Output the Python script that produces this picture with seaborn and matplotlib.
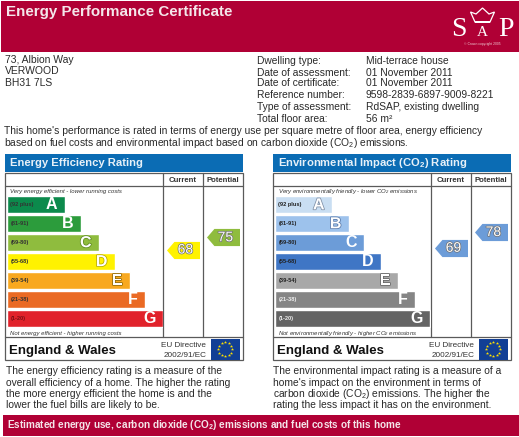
import numpy as np
import matplotlib
matplotlib.use("Agg")
import matplotlib.pyplot as plt
import matplotlib.patheffects as pe
from matplotlib.patches import Rectangle, Polygon
from matplotlib.path import Path
import seaborn as sns

W, H = 519, 437

# ---- data ----
bands = ["A", "B", "C", "D", "E", "F", "G"]
ranges = ["(92 plus)", "(81-91)", "(69-80)", "(55-68)", "(39-54)", "(21-38)", "(1-20)"]
energy_len = [58, 74, 92, 108, 123, 138, 156]
env_len = [57, 74, 89, 106, 123, 140, 155]
energy_colors = ["#0c8a4c", "#2c9c3c", "#8fbc3e", "#fff200", "#f8a81f", "#ea6a24", "#e1222b"]
env_colors = ["#c9def2", "#9dc2ec", "#6c9cd8", "#3f76c5", "#a8a8a8", "#858585", "#646464"]
energy_ratings = [68, 75]
env_ratings = [69, 78]
energy_arrow_colors = ["#fff200", "#8fbc3e"]
env_arrow_colors = ["#6c9cd8", "#6c9cd8"]
energy_range_colors = ["#333333"] * 6 + ["#7a1015"]
env_range_colors = ["#222222"] * 5 + ["#eeeeee"] * 2
energy_letter_edge = [None, None, "#5d8a22", "#b5a800", "#8a6a10", None, None]
env_letter_edge = ["#7d8ea5", "#5878a8", None, None, "#666666", None, None]

address = ["73, Albion Way", "VERWOOD", "BH31 7LS"]
info_labels = ["Dwelling type:", "Date of assessment:", "Date of certificate:",
               "Reference number:", "Type of assessment:", "Total floor area:"]
info_values = ["Mid-terrace house", "01 November 2011", "01 November 2011",
               "9598-2839-6897-9009-8221", "RdSAP, existing dwelling", "56 m²"]
info_y = [60.5, 73, 83.5, 95, 107, 118.5]
intro = ["This home's performance is rated in terms of energy use per square metre of floor area, energy efficiency",
         "based on fuel costs and environmental impact based on carbon dioxide (CO$_2$) emissions."]
left_para = ["The energy efficiency rating is a measure of the",
             "overall efficiency of a home. The higher the rating",
             "the more energy efficient the home is and the",
             "lower the fuel bills are likely to be."]
right_para = ["The environmental impact rating is a measure of a",
              "home's impact on the environment in terms of",
              "carbon dioxide (CO$_2$) emissions. The higher the",
              "rating the less impact it has on the environment."]
star_angles = [0, 30, 60, 90, 120, 150, 180, 210, 240, 270, 300, 330]

MAROON = "#b00035"
BLUE = "#0b6cb4"
LINE = "#5a5a5a"
TXT = "#2a2a2a"

sns.set_theme(style="white")
plt.rcParams["font.family"] = ["Liberation Sans", "DejaVu Sans"]
plt.rcParams["mathtext.default"] = "regular"

fig = plt.figure(figsize=(W / 100, H / 100), dpi=100, facecolor="white")


def px_axes(x0, y0, x1, y1, z=1):
    a = fig.add_axes([x0 / W, 1 - y1 / H, (x1 - x0) / W, (y1 - y0) / H], zorder=z)
    a.patch.set_alpha(0)
    return a


bg = px_axes(0, 0, W, H, 0)
bg.set_xlim(0, W)
bg.set_ylim(H, 0)
bg.axis("off")


def T(x, y, s, size=7.4, color=TXT, ha="left", weight="normal", style="normal", family=None, **kw):
    d = dict(fontsize=size, color=color, ha=ha, va="center", fontweight=weight, fontstyle=style)
    if family:
        d["family"] = family
    d.update(kw)
    return bg.text(x, y, s, **d)


def R(x0, y0, x1, y1, fc, z=1):
    bg.add_patch(Rectangle((x0, y0), x1 - x0, y1 - y0, fc=fc, ec="none", zorder=z))


# top banner
R(1, 1, 519, 52, MAROON)
T(6, 12, "Energy Performance Certificate", 10.9, "#f4e6ea", weight="bold")
T(458.5, 29, "S", 20, "white", ha="center", family="Liberation Serif")
T(482, 33, "A", 11, "white", ha="center", family="Liberation Serif")
T(505.5, 29, "P", 20, "white", ha="center", family="Liberation Serif")
bg.add_patch(Polygon([(475, 22), (470.5, 12), (476, 14), (482.5, 8), (489, 14), (494.5, 12), (490, 22)],
                     closed=True, fc="none", ec="white", lw=0.9, zorder=2))
R(475, 20.5, 490, 23, "white", 2)
T(482, 43.5, "© Crown copyright 2005", 2.4, "#eeccd4", ha="center")

# address block
for y, s in zip([60, 71.5, 83], address):
    T(5, y, s, 7.5)
for y, a, b in zip(info_y, info_labels, info_values):
    T(257, y, a)
    T(366, y, b)
T(4, 130.5, intro[0])
T(4, 143.5, intro[1])


def panel(x0, title, lens, colors, range_cols, edges, ratings, arrow_cols, note_top, note_bot):
    x1 = x0 + 238
    c1, c2 = x0 + 158, x0 + 197.5
    R(x0, 153.5, x1, 172, BLUE)
    T(x0 + 5, 163, title, 8.1, "#e8f1f8", weight="bold")
    # frame
    bg.add_patch(Rectangle((x0, 173), 238, 187, fc="none", ec=LINE, lw=0.9, zorder=3))
    bg.plot([x0, x1], [186, 186], color=LINE, lw=0.9, zorder=3)
    bg.plot([x0, x1], [337, 337], color=LINE, lw=0.9, zorder=3)
    bg.plot([c1, c1], [173, 337], color=LINE, lw=0.9, zorder=3)
    bg.plot([c2, c2], [173, 337], color=LINE, lw=0.9, zorder=3)
    T((c1 + c2) / 2, 180, "Current", 5.6, "#333333", ha="center", weight="bold")
    T((c2 + x1) / 2, 180, "Potential", 5.6, "#333333", ha="center", weight="bold")
    T(x0 + 5, 192, note_top, 4.3, "#333333", style="italic")
    T(x0 + 5, 333, note_bot, 4.3, "#333333", style="italic")
    T(x0 + 4, 351, "England & Wales", 9.5, "#111111", weight="bold")
    T(x0 + 201, 345.5, "EU Directive", 5.9, "#333333", ha="right")
    T(x0 + 201, 355.5, "2002/91/EC", 5.9, "#333333", ha="right")
    # flag
    fx0, fx1, fy0, fy1 = x0 + 205.5, x0 + 235, 339, 359.5
    R(fx0, fy0, fx1, fy1, "#123f95", 4)
    cx, cy = (fx0 + fx1) / 2, (fy0 + fy1) / 2
    for ang in star_angles:
        bg.plot(cx + 7.2 * np.cos(np.radians(ang)), cy + 7.2 * np.sin(np.radians(ang)),
                marker="*", ms=2.4, color="#ffe100", mew=0, zorder=5)

    # rating bars
    ax = px_axes(x0 + 1.5, 195, x0 + 158, 327.5, 2)
    sns.barplot(x=lens, y=bands, hue=bands, palette=colors, legend=False, width=0.9,
                orient="h", saturation=1, ax=ax)
    ax.set_xlim(0, 156.5)
    ax.set_ylim(6.5, -0.5)
    ax.axis("off")
    for i, (ln, letter, rng, rc, ed) in enumerate(zip(lens, bands, ranges, range_cols, edges)):
        ax.text(4, i, rng, fontsize=4.1, color=rc, va="center", fontweight="bold")
        t = ax.text(ln - 7, i + 0.02, letter, fontsize=11.5, color="white", ha="right",
                    va="center", fontweight="bold")
        if ed:
            t.set_path_effects([pe.withStroke(linewidth=1.1, foreground=ed)])

    # arrows on a rating scale
    ar = px_axes(c1, 186, x1, 337, 3)
    verts = [(-1, 0), (-0.55, 0.52), (1, 0.52), (1, -0.52), (-0.55, -0.52), (-1, 0)]
    arrow = Path(verts, [Path.MOVETO] + [Path.LINETO] * 4 + [Path.CLOSEPOLY])
    for pos, val, col in zip([0.5, 1.5], ratings, arrow_cols):
        sns.scatterplot(x=[pos], y=[val], marker=arrow, s=(33 * 0.72) ** 2, color=col,
                        linewidth=0, ax=ar, legend=False)
        t = ar.text(pos + 0.06, val, str(val), fontsize=10, color="white", ha="center", va="center")
        t.set_path_effects([pe.withStroke(linewidth=1.0, foreground="#6f6f6f")])
    ar.set_xlim(0, 2)
    ar.set_ylim(18, 104.3)
    ar.axis("off")


panel(5, "Energy Efficiency Rating", energy_len, energy_colors, energy_range_colors,
      energy_letter_edge, energy_ratings, energy_arrow_colors,
      "Very energy efficient - lower running costs", "Not energy efficient - higher running costs")
panel(273, "Environmental Impact (CO$_2$) Rating", env_len, env_colors, env_range_colors,
      env_letter_edge, env_ratings, env_arrow_colors,
      "Very environmentally friendly - lower CO$_2$ emissions",
      "Not environmentally friendly - higher CO$_2$ emissions")

# lower paragraphs
for y, a, b in zip([371, 382.5, 394, 405.5], left_para, right_para):
    T(6, y, a)
    T(273, y, b)

# footer banner
R(3, 415, 519, 435.5, MAROON)
T(7, 425, "Estimated energy use, carbon dioxide (CO$_2$) emissions and fuel costs of this home", 7.2,
  "#f4e6ea", weight="bold")

fig.savefig("out.png", dpi=100)
